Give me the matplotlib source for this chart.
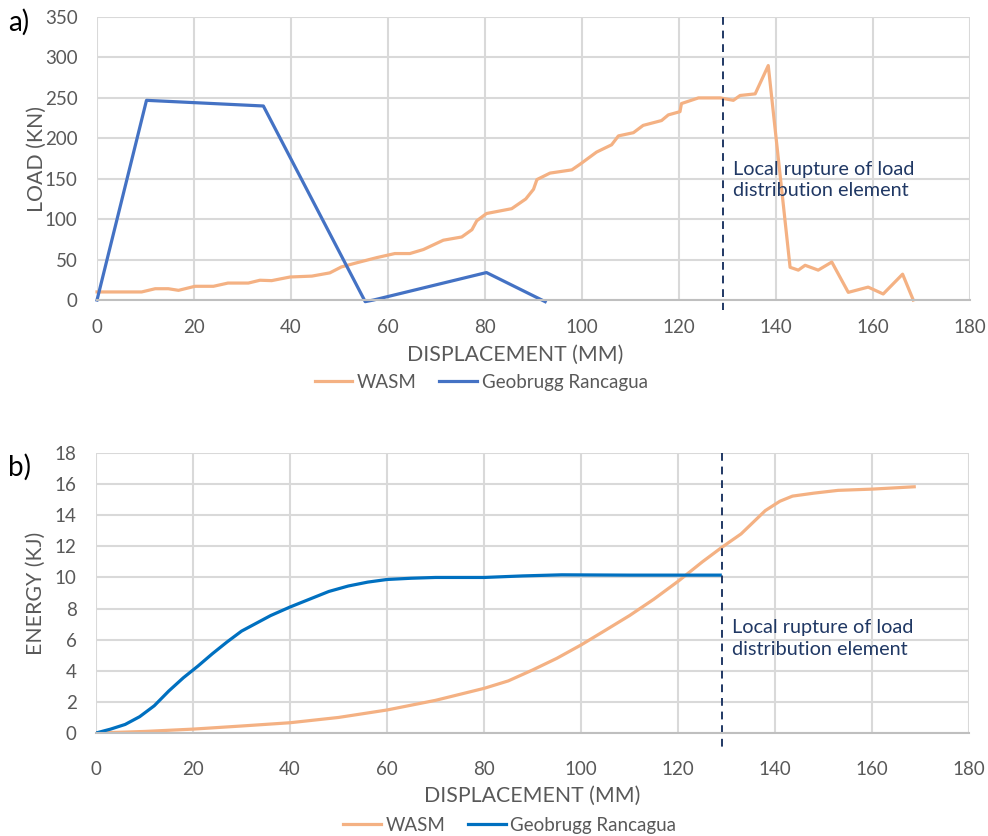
import numpy as np
import matplotlib
matplotlib.use("Agg")
import matplotlib.pyplot as plt

plt.rcParams["font.family"] = ["Lato", "DejaVu Sans"]

# a) load - displacement
wasm_load_x = [0, 9.2, 12, 14.7, 16.8, 20.2, 24, 27, 31.2, 33.6, 36, 39.8, 44.3, 48, 50.4,
               53.5, 57.7, 61.4, 64.5, 67.3, 71.4, 75.2, 77.3, 78.3, 80.3, 85.5, 88.4, 90,
               90.7, 93.4, 97.9, 99.6, 103, 106.1, 107.5, 110.6, 112.6, 116.4, 117.8,
               120.2, 120.5, 124, 128.5, 131.2, 132.6, 135.7, 138.4, 142.9, 144.6, 146,
               148.7, 151.5, 154.9, 159, 162.1, 166.1, 168.3]
wasm_load_y = [10, 10, 14, 14, 12, 17, 17, 21, 21, 24.5, 24, 28.5, 29.6, 33.6, 41,
               46, 52.5, 57.5, 57.5, 62.5, 74, 78, 87, 98, 107, 113, 125, 137,
               149, 157, 161, 168, 183, 192, 203, 207, 216, 222, 229,
               233, 243, 250, 250, 247, 253, 255, 290, 40.5, 37, 43,
               37, 47, 9.5, 16, 7.5, 32, 0]

geo_load_x = [0, 10.2, 34.3, 55.3, 57, 80.3, 92.4]
geo_load_y = [0, 247, 240, -2, 0, 34, -2]

# b) energy - displacement
wasm_energy_x = [0, 10, 20, 30, 40, 50, 60, 70, 80, 85, 90, 95, 100, 105, 110, 115,
                 120, 125, 129, 133, 136, 138, 141, 143.6, 148, 153, 160, 168.7]
wasm_energy_y = [0, 0.1, 0.25, 0.45, 0.66, 1.0, 1.48, 2.1, 2.87, 3.35, 4.05, 4.8, 5.66,
                 6.6, 7.55, 8.6, 9.75, 11.0, 11.93, 12.8, 13.7, 14.3, 14.9, 15.23, 15.42,
                 15.6, 15.68, 15.83]

geo_energy_x = [0, 3, 6, 9, 12, 15, 18, 21, 24, 27, 30, 33, 36, 40, 44, 48, 52, 56, 60,
                65, 70, 80, 88, 96, 110, 128.7]
geo_energy_y = [0, 0.25, 0.55, 1.05, 1.75, 2.7, 3.55, 4.3, 5.1, 5.85, 6.55, 7.05, 7.55,
                8.1, 8.6, 9.1, 9.45, 9.7, 9.87, 9.95, 10.0, 10.0, 10.1, 10.17, 10.15, 10.15]

rupture_x = 129
rupture_text = "Local rupture of load\ndistribution element"

orange = "#F4B183"
blue_a = "#4472C4"
blue_b = "#0070C0"
navy = "#203864"
grey_txt = "#595959"

fig = plt.figure(figsize=(9.88, 8.36), dpi=100)
ax1 = fig.add_axes([0.0982, 0.6411, 0.8836, 0.3385])
ax2 = fig.add_axes([0.0972, 0.1232, 0.8836, 0.3349])


def style_axes(ax, ymax, ystep, ylabel, xpad):
    ax.set_xlim(0, 180)
    ax.set_ylim(0, ymax)
    ax.set_xticks(np.arange(0, 181, 20))
    ax.set_yticks(np.arange(0, ymax + 0.1, ystep))
    ax.grid(True, color="#d9d9d9", linewidth=1.5)
    ax.set_axisbelow(True)
    for s in ["top", "right", "left"]:
        ax.spines[s].set_visible(False)
    ax.spines["bottom"].set_color("#bfbfbf")
    ax.spines["bottom"].set_linewidth(1.5)
    ax.tick_params(length=0, labelsize=13.5, colors=grey_txt)
    ax.tick_params(axis="x", pad=xpad)
    ax.tick_params(axis="y", pad=14)
    ax.set_xlabel("DISPLACEMENT (MM)", fontsize=15.3, color=grey_txt, labelpad=6)
    ax.set_ylabel(ylabel, fontsize=15.3, color=grey_txt)


style_axes(ax1, 350, 50, "LOAD (KN)", 14)
style_axes(ax2, 18, 2, "ENERGY (KJ)", 20)
ax1.yaxis.set_label_coords(-0.058, 0.5)
ax2.yaxis.set_label_coords(-0.057, 0.5)
ax1.xaxis.label.set_x(0.479)

ax1.plot(wasm_load_x, wasm_load_y, color=orange, lw=2.3, label="WASM", clip_on=False)
ax1.plot(geo_load_x, geo_load_y, color=blue_a, lw=2.3, label="Geobrugg Rancagua", clip_on=False)
ax1.plot([rupture_x, rupture_x], [350, -12], color=navy, lw=1.4, ls=(0, (4, 3)), clip_on=False)
ax1.text(131.2, 148, rupture_text, color=navy, fontsize=14.3, va="center", ha="left",
         linespacing=1.3)
ax1.legend(loc="center", bbox_to_anchor=(0.44, -0.29), ncol=2, frameon=False,
           fontsize=13.5, handlelength=2.0, columnspacing=1.2, handletextpad=0.25,
           labelcolor=grey_txt)

ax2.plot(wasm_energy_x, wasm_energy_y, color=orange, lw=2.3, label="WASM")
ax2.plot(geo_energy_x, geo_energy_y, color=blue_b, lw=2.3, label="Geobrugg Rancagua")
ax2.plot([rupture_x, rupture_x], [18, -0.9], color=navy, lw=1.4, ls=(0, (4, 3)), clip_on=False)
ax2.text(131.2, 6.07, rupture_text, color=navy, fontsize=14.3, va="center", ha="left",
         linespacing=1.3)
ax2.legend(loc="center", bbox_to_anchor=(0.474, -0.33), ncol=2, frameon=False,
           fontsize=13.5, handlelength=2.0, columnspacing=1.2, handletextpad=0.25,
           labelcolor=grey_txt)

fig.text(0.008, 1 - 22 / 836, "a)", fontsize=20, va="center", ha="left")
fig.text(0.008, 1 - 467 / 836, "b)", fontsize=20, va="center", ha="left")

fig.savefig("out.png", dpi=100)
